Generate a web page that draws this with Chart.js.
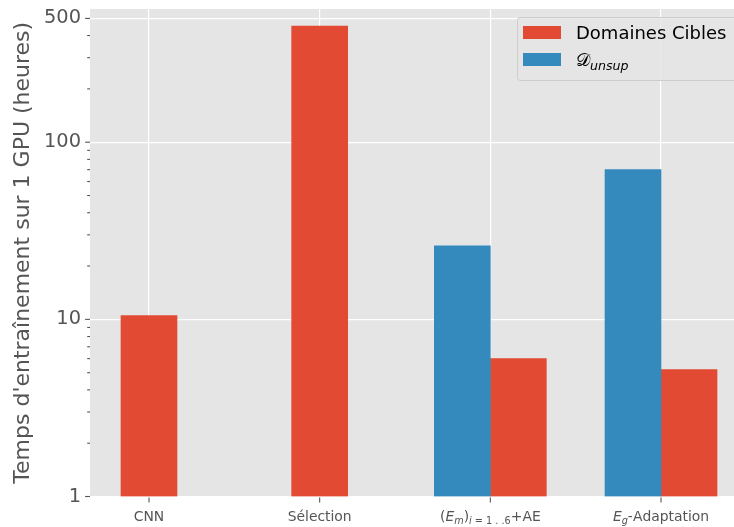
<!DOCTYPE html>
<html>
<head>
<meta charset="utf-8">
<script src="https://cdn.jsdelivr.net/npm/chart.js@4.4.1/dist/chart.umd.min.js"></script>
<style>
  html, body { margin: 0; padding: 0; background: #fff; overflow: hidden; }
</style>
</head>
<body>
<canvas id="chart" width="734" height="527"></canvas>
<script>
// Training time on one GPU, in hours, per method
const categories = ['CNN', 'Sélection', '$(E_m)_{i=1..6}$+AE', '$E_g$-Adaptation'];
const seriesNames = ['Domaines Cibles', '$\\mathcal{D}_{unsup}$'];
const cibles = [10.5, 452, 6, 5.2];
const unsup = [null, null, 26, 70];
const majorTicks = [1, 10, 100, 500];
const minorTicks = [2, 3, 4, 5, 6, 7, 8, 9, 20, 30, 40, 50, 60, 70, 80, 90, 200, 300, 400];

const RED = '#E24A33';
const BLUE = '#348ABD';
const GREY = '#555555';
const FONT = "'DejaVu Sans', sans-serif";

// tiny mathtext reader: $...$ letters go italic, _x / _{..} go to subscript
function parseMath(str) {
    const parts = [];
    let math = false;
    let i = 0;
    const push = (t, it, sub, cal) => parts.push({ t, it, sub, cal });
    while (i < str.length) {
        const ch = str[i];
        if (ch === '$') { math = !math; i++; continue; }
        if (!math) { push(ch, false, false); i++; continue; }
        if (str.startsWith('\\mathcal{', i)) {
            const end = str.indexOf('}', i);
            push(str.slice(i + 9, end), false, false, true);
            i = end + 1;
            continue;
        }
        if (ch === '_') {
            let body;
            if (str[i + 1] === '{') {
                const end = str.indexOf('}', i);
                body = str.slice(i + 2, end);
                i = end + 1;
            } else {
                body = str[i + 1];
                i += 2;
            }
            // relations and dots get some air, like mathtext does
            for (const c of body) {
                let t = c;
                if (c === '=') t = ' = ';
                else if (c === '.') t = ' .';
                push(t, /[A-Za-z]/.test(c), true);
            }
            continue;
        }
        push(ch, /[A-Za-z]/.test(ch), false);
        i++;
    }
    return parts;
}

function drawRich(ctx, str, x, y, size, align) {
    const parts = parseMath(str);
    const fontFor = p => (p.it ? 'italic ' : '') + (p.sub ? size * 0.7 : size) + 'px ' +
        (p.cal ? "'DejaVu Serif', serif" : FONT);
    const textFor = p => p.cal ? '\u{1D49F}' : p.t;
    let total = 0;
    const widths = parts.map(p => {
        ctx.font = fontFor(p);
        const w = ctx.measureText(textFor(p)).width;
        total += w;
        return w;
    });
    let cx = align === 'center' ? x - total / 2 : x;
    ctx.textAlign = 'left';
    ctx.textBaseline = 'alphabetic';
    parts.forEach((p, k) => {
        ctx.font = fontFor(p);
        ctx.fillText(textFor(p), cx, p.sub ? y + size * 0.2 : y);
        cx += widths[k];
    });
}

const ggplotLook = {
    id: 'ggplotLook',
    beforeDraw(chart) {
        const { ctx, chartArea: a } = chart;
        ctx.save();
        ctx.fillStyle = '#fff';
        ctx.fillRect(0, 0, chart.width, chart.height);
        ctx.fillStyle = '#E5E5E5';
        ctx.fillRect(a.left, a.top, a.right - a.left, a.bottom - a.top);
        ctx.restore();
    },
    afterDraw(chart) {
        const { ctx, chartArea: a } = chart;
        const xs = chart.scales.x, ys = chart.scales.y;
        ctx.save();
        ctx.strokeStyle = GREY;
        ctx.lineWidth = 1.1;

        // y tick marks, long for decades, short for the rest
        ys.ticks.forEach(t => {
            const py = ys.getPixelForValue(t.value);
            const len = majorTicks.includes(t.value) ? 4.9 : 2.8;
            ctx.beginPath();
            ctx.moveTo(a.left - len, py);
            ctx.lineTo(a.left, py);
            ctx.stroke();
        });

        // x tick marks and labels
        ctx.fillStyle = GREY;
        categories.forEach((c, i) => {
            const px = xs.getPixelForValue(i);
            ctx.beginPath();
            ctx.moveTo(px, a.bottom + 1);
            ctx.lineTo(px, a.bottom + 5.9);
            ctx.stroke();
            drawRich(ctx, c, px, 521, 13.9, 'center');
        });

        // legend box
        const lx = 517.5, ly = 17.5, lw = 240, lh = 63;
        ctx.beginPath();
        ctx.roundRect(lx, ly, lw, lh, 3);
        ctx.fillStyle = 'rgba(229,229,229,0.8)';
        ctx.fill();
        ctx.strokeStyle = '#cccccc';
        ctx.lineWidth = 1;
        ctx.stroke();

        const colors = [RED, BLUE];
        seriesNames.forEach((name, k) => {
            const ry = 26 + k * 27;
            ctx.fillStyle = colors[k];
            ctx.fillRect(523, ry, 38, 13);
            ctx.fillStyle = '#000';
            drawRich(ctx, name, 576, ry + 13, 18, 'left');
        });
        ctx.restore();
    }
};

const ctx = document.getElementById('chart').getContext('2d');
new Chart(ctx, {
    type: 'bar',
    data: {
        datasets: [
            {
                label: seriesNames[1],
                data: unsup.map((v, i) => ({ x: i, y: v })),
                backgroundColor: BLUE,
                barThickness: 56
            },
            {
                label: seriesNames[0],
                data: cibles.map((v, i) => ({ x: i, y: v })),
                backgroundColor: RED,
                barThickness: 56
            }
        ]
    },
    options: {
        responsive: false,
        animation: false,
        skipNull: true,
        layout: { padding: { top: 9, right: 0, bottom: 0, left: 0 } },
        plugins: { legend: { display: false }, tooltip: { enabled: false } },
        scales: {
            x: {
                type: 'linear',
                min: -0.3457,
                max: 3.4277,
                offset: false,
                grid: { color: '#fff', lineWidth: 1.2, drawTicks: false, offset: false },
                border: { display: false },
                ticks: { display: false },
                afterBuildTicks: s => { s.ticks = categories.map((c, i) => ({ value: i })); },
                afterFit: s => {
                    s.height = 30.5;
                    s.paddingLeft = 0;
                    s.paddingRight = 0;
                }
            },
            y: {
                type: 'logarithmic',
                min: 1,
                max: 565,
                grid: {
                    color: c => (c.tick && majorTicks.includes(c.tick.value)) ? '#fff' : 'rgba(0,0,0,0)',
                    lineWidth: 1.2,
                    drawTicks: false
                },
                border: { display: false },
                ticks: {
                    color: GREY,
                    font: { family: FONT, size: 19.4 },
                    padding: 9,
                    autoSkip: false,
                    callback: v => majorTicks.includes(v) ? String(v) : ''
                },
                afterBuildTicks: s => {
                    s.ticks = majorTicks.concat(minorTicks).sort((a, b) => a - b).map(v => ({ value: v }));
                },
                afterFit: s => {
                    s.width = 90;
                    s.paddingTop = 0;
                    s.paddingBottom = 0;
                },
                title: {
                    display: true,
                    text: "Temps d'entraînement sur 1 GPU (heures)",
                    color: GREY,
                    font: { family: FONT, size: 22 },
                    padding: { top: 10, bottom: 0 }
                }
            }
        }
    },
    plugins: [ggplotLook]
});
</script>
</body>
</html>
